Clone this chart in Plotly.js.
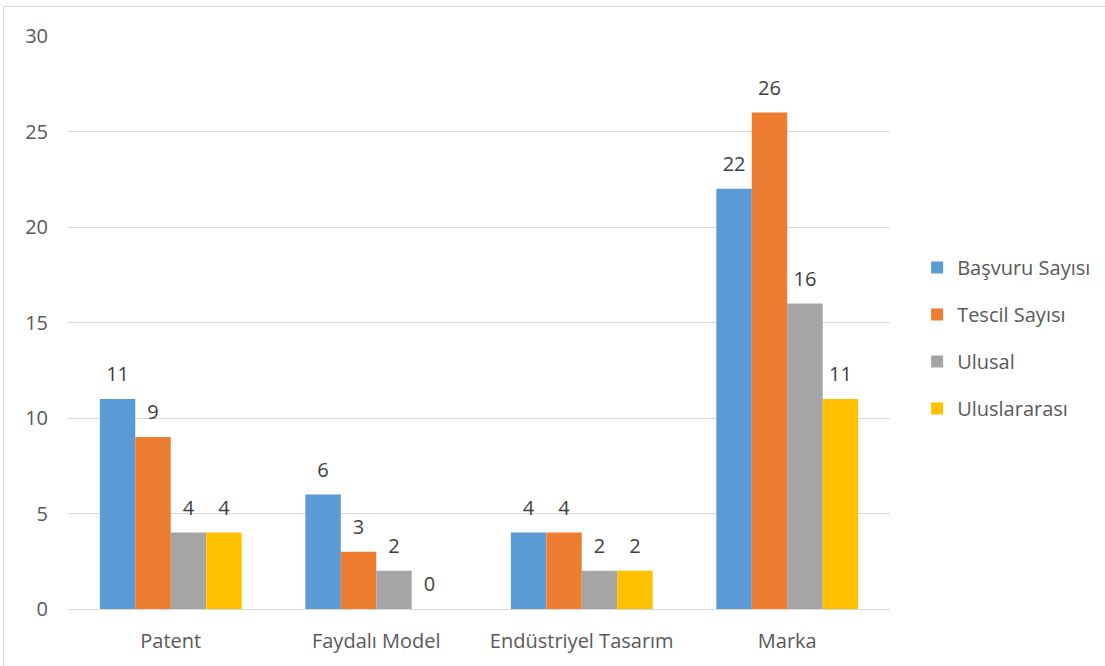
<!DOCTYPE html>
<html><head><meta charset="utf-8">
<script src="https://cdn.plot.ly/plotly-3.0.1.min.js"></script>
<style>body{margin:0;background:#fff}#wrap{position:relative;width:1105px;height:666px;overflow:hidden}
#frame{position:absolute;left:3px;top:6px;width:1120px;height:680px;border:1px solid #d9d9d9;pointer-events:none}</style>
</head><body><div id="wrap"><div id="chart" style="width:1105px;height:666px"></div><div id="frame"></div></div>
<script>
const categories = ['Patent', 'Faydalı Model', 'Endüstriyel Tasarım', 'Marka'];
const seriesNames = ['Başvuru Sayısı', 'Tescil Sayısı', 'Ulusal', 'Uluslararası'];
const basvuru = [11, 6, 4, 22];
const tescil = [9, 3, 4, 26];
const ulusal = [4, 2, 2, 16];
const uluslararasi = [4, 0, 2, 11];
const yTicks = [0, 5, 10, 15, 20, 25, 30];
const colors = ['#5B9BD5', '#ED7D31', '#A5A5A5', '#FFC000'];
const values = [basvuru, tescil, ulusal, uluslararasi];
const FONT = 'Open Sans, Noto Sans, sans-serif';
const bars = values.map((v, i) => ({
  type: 'bar', name: seriesNames[i], x: categories, y: v,
  marker: {color: colors[i]},
  offsetgroup: 'g' + i, alignmentgroup: 'a',
  legendgroup: 'g' + i, hoverinfo: 'x+y+name'
}));
const labels = values.map((v, i) => ({
  type: 'scatter', mode: 'markers+text', x: categories, y: v,
  text: v.map(String), textposition: 'top center', cliponaxis: false,
  marker: {size: 19, opacity: 0, color: colors[i]},
  textfont: {family: FONT, size: 20, color: '#404040'},
  offsetgroup: 'g' + i, alignmentgroup: 'a',
  showlegend: false, legendgroup: 'g' + i, hoverinfo: 'skip'
}));
const layout = {
  width: 1105, height: 666,
  margin: {l: 68, r: 215, t: 36, b: 57, autoexpand: false},
  paper_bgcolor: '#fff', plot_bgcolor: '#fff',
  barmode: 'group', bargap: 0.31, bargroupgap: 0,
  scattermode: 'group', scattergap: 0.31,
  font: {family: FONT, size: 20, color: '#595959'},
  xaxis: {showgrid: false, showline: true, linecolor: '#d9d9d9', linewidth: 1, ticks: '', ticklabelstandoff: 14, tickfont: {size: 20, color: '#595959'}},
  yaxis: {range: [0, 30], tickvals: yTicks, showgrid: true, gridcolor: '#d9d9d9', gridwidth: 1, zeroline: false,
          showline: false, ticks: '', ticklabelstandoff: 19, tickfont: {size: 20, color: '#595959'}},
  showlegend: true,
  legend: {x: 1.033, xanchor: 'left', y: 0.473, yanchor: 'middle', traceorder: 'grouped', tracegroupgap: 18,
           font: {family: FONT, size: 20, color: '#595959'}, itemwidth: 30, bgcolor: 'rgba(0,0,0,0)'}
};
Plotly.newPlot('chart', bars.concat(labels), layout, {displayModeBar: false, staticPlot: true});
</script></body></html>
